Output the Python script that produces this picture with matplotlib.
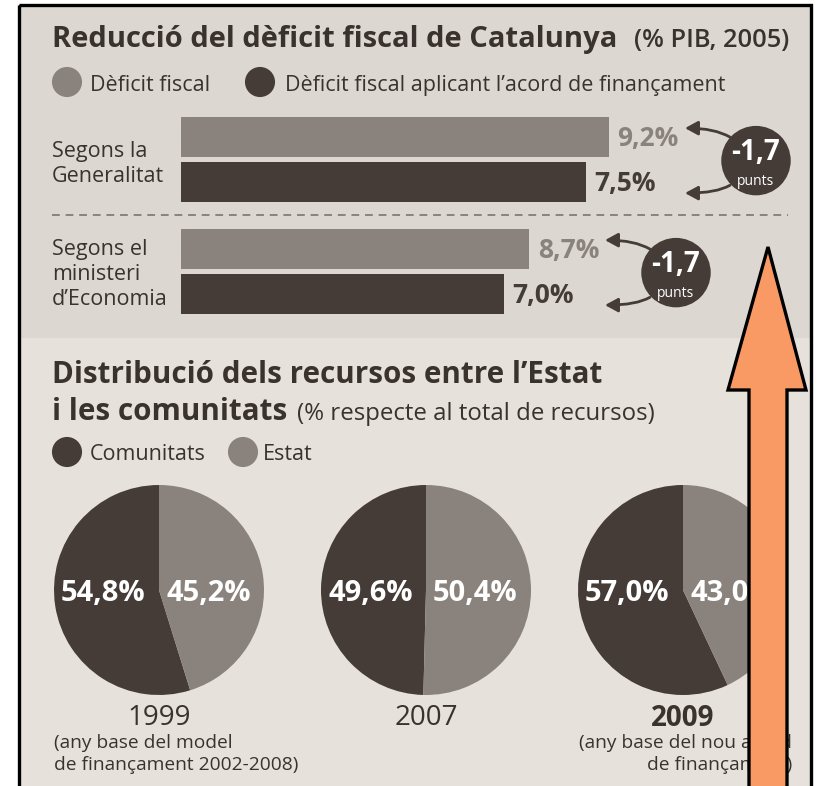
import matplotlib
matplotlib.use('Agg')
import matplotlib.pyplot as plt
from matplotlib import font_manager
from matplotlib.patches import Rectangle, Polygon

# ---- data ----
group_labels = ['Segons la\nGeneralitat', 'Segons el\nministeri\nd\u2019Economia']
deficit_fiscal = [9.2, 8.7]
deficit_acord = [7.5, 7.0]

pie_years = ['1999', '2007', '2009']
pie_notes = ['(any base del model\nde finançament 2002-2008)', '',
             '(any base del nou acord\nde finançament)']
comunitats = [54.8, 49.6, 57.0]
estat = [45.2, 50.4, 43.0]

# ---- style ----
W, H = 817, 786
PAPER_TOP = '#dcd8d1'
PAPER = '#e6e2db'
GREY = '#8a827c'
DARK = '#453c37'
INK = '#3a322e'
ORANGE = '#f99a64'


def pick_font(names):
    for n in names:
        try:
            font_manager.findfont(font_manager.FontProperties(family=n),
                                  fallback_to_default=False)
            return n
        except ValueError:
            pass
    return 'DejaVu Sans'


FONT = pick_font(['Liberation Sans Narrow', 'Open Sans', 'Liberation Sans'])
plt.rcParams['font.family'] = [FONT, 'DejaVu Sans']


def box(left, top, w, h):
    """pixel box (from top-left) -> figure fraction rect"""
    return [left / W, 1 - (top + h) / H, w / W, h / H]


def fmt(v):
    return f'{v:.1f}'.replace('.', ',')


fig = plt.figure(figsize=(W / 100, H / 100), dpi=100, facecolor='white')

# background / text layer in pixel coordinates
bg = fig.add_axes([0, 0, 1, 1], zorder=-1)
bg.set_xlim(0, W)
bg.set_ylim(H, 0)
bg.axis('off')
bg.add_patch(Rectangle((19, 5), 792, 790, facecolor=PAPER, edgecolor='none'))
bg.add_patch(Rectangle((19, 5), 792, 333, facecolor=PAPER_TOP, edgecolor='none'))
bg.add_patch(Rectangle((19, 5), 792, 800, facecolor='none', edgecolor='black', lw=2.4))

# ---- top block: titles and legend ----
bg.text(52, 47, 'Reducció del dèficit fiscal de Catalunya', fontsize=21,
        fontweight='bold', color=INK, va='baseline')
bg.text(634, 47, '(% PIB, 2005)', fontsize=18.3, fontweight=600, color=INK,
        ha='left', va='baseline')
bg.scatter([67, 260], [82, 82], s=470, c=[GREY, DARK], edgecolors='none')
bg.text(90, 91, 'Dèficit fiscal', fontsize=15.5, color=INK, va='baseline')
bg.text(285, 91, 'Dèficit fiscal aplicant l\u2019acord de finançament', fontsize=15.5,
        color=INK, va='baseline')
bg.plot([52, 788], [215, 215], color=GREY, lw=1.4, ls=(0, (4, 3)))

# ---- bars: each group is its own small chart, as in the original ----
group_center_px = [159.5, 271.5]
label_shift_px = [5, 3]
bar_scale_px = [13.53, 14.7]
bar_base = [-22.4, -15.0]
badge_px = [756, 676]
bar_left_px = 181
axes_w_px = 620

for g in range(len(group_labels)):
    ax = fig.add_axes(box(bar_left_px, group_center_px[g] - 56, axes_w_px, 112))
    ax.set_xlim(bar_base[g], bar_base[g] + axes_w_px / bar_scale_px[g])
    ax.set_ylim(0.5, -0.5)
    ax.axis('off')
    vals = [deficit_fiscal[g], deficit_acord[g]]
    cols = [GREY, DARK]
    ys = [-0.2, 0.2]
    ax.barh(ys, [v - bar_base[g] for v in vals], left=bar_base[g], height=0.355,
            color=cols, edgecolor='none')
    for v, y, c in zip(vals, ys, cols):
        ax.annotate(fmt(v) + '%', xy=(v, y), xytext=(6, -1), textcoords='offset points',
                    ha='left', va='center', fontsize=19, fontweight='bold', color=c)

    # badge with the difference
    bx = bar_base[g] + (badge_px[g] - bar_left_px) / bar_scale_px[g]
    ax.scatter([bx], [0.01], s=2500, color=DARK, edgecolors='none', clip_on=False, zorder=3)
    ax.text(bx, -0.06, fmt(deficit_acord[g] - deficit_fiscal[g]), ha='center', va='center',
            fontsize=20, fontweight='bold', color='white', zorder=4)
    ax.text(bx, 0.2, 'punts', ha='center', va='center', fontsize=10, color='white', zorder=4)

    tip_x = bx - 71 / bar_scale_px[g]
    start_x = bx - 26 / bar_scale_px[g]
    arrow = dict(arrowstyle='-|>,head_length=0.55,head_width=0.3', color=DARK, lw=2.0,
                 shrinkA=0, shrinkB=0, mutation_scale=14)
    ax.annotate('', xy=(tip_x, -0.28), xytext=(start_x, -0.2),
                arrowprops=dict(connectionstyle='angle3,angleA=150,angleB=0', **arrow))
    ax.annotate('', xy=(tip_x, 0.30), xytext=(start_x, 0.23),
                arrowprops=dict(connectionstyle='angle3,angleA=-150,angleB=0', **arrow))

    bg.text(52, group_center_px[g] + label_shift_px[g], group_labels[g], fontsize=15.5,
            color=INK, va='center', linespacing=1.25)

# ---- bottom block: titles and legend ----
bg.text(52, 383, 'Distribució dels recursos entre l\u2019Estat', fontsize=21.3,
        fontweight='bold', color=INK, va='baseline')
bg.text(52, 420, 'i les comunitats', fontsize=21.3, fontweight='bold', color=INK,
        va='baseline')
bg.text(297, 420, '(% respecte al total de recursos)', fontsize=17.3, color=INK,
        va='baseline')
bg.scatter([67, 243], [452, 452], s=470, c=[DARK, GREY], edgecolors='none')
bg.text(90, 460, 'Comunitats', fontsize=15.5, color=INK, va='baseline')
bg.text(263, 460, 'Estat', fontsize=15.5, color=INK, va='baseline')

# ---- pies ----
pie_cx = [159, 426, 683]
pie_cy = 590
pie_r = 105
for i in range(len(pie_years)):
    ax = fig.add_axes(box(pie_cx[i] - pie_r, pie_cy - pie_r, 2 * pie_r, 2 * pie_r))
    ax.pie([comunitats[i], estat[i]], colors=[DARK, GREY], startangle=90,
           counterclock=True, radius=1, wedgeprops=dict(linewidth=0))
    ax.set_xlim(-1, 1)
    ax.set_ylim(-1, 1)
    ax.text(-0.53, -0.03, fmt(comunitats[i]) + '%', ha='center', va='center',
            fontsize=21, fontweight='bold', color='white')
    ax.text(0.47, -0.03, fmt(estat[i]) + '%', ha='center', va='center',
            fontsize=21, fontweight='bold', color='white')

    bg.text(pie_cx[i], 718, pie_years[i], ha='center', va='center', fontsize=20,
            color=INK, fontweight='bold' if i == 2 else 'normal')

bg.text(54, 734, pie_notes[0], ha='left', va='top', fontsize=13.8, color=INK,
        linespacing=1.3)
bg.text(792, 734, pie_notes[2], ha='right', va='top', fontsize=13.8, color=INK,
        linespacing=1.3, multialignment='right')

# ---- orange arrow drawn over the scan ----
top = fig.add_axes([0, 0, 1, 1], zorder=10)
top.set_xlim(0, W)
top.set_ylim(H, 0)
top.axis('off')
top.patch.set_alpha(0)
top.add_patch(Polygon([(749, 795), (749, 390), (728, 390), (768, 247), (806, 390),
                       (787, 390), (787, 795)], closed=True, facecolor=ORANGE,
                      edgecolor='black', lw=2.4, joinstyle='miter'))

fig.savefig('out.png', dpi=100, facecolor='white')
